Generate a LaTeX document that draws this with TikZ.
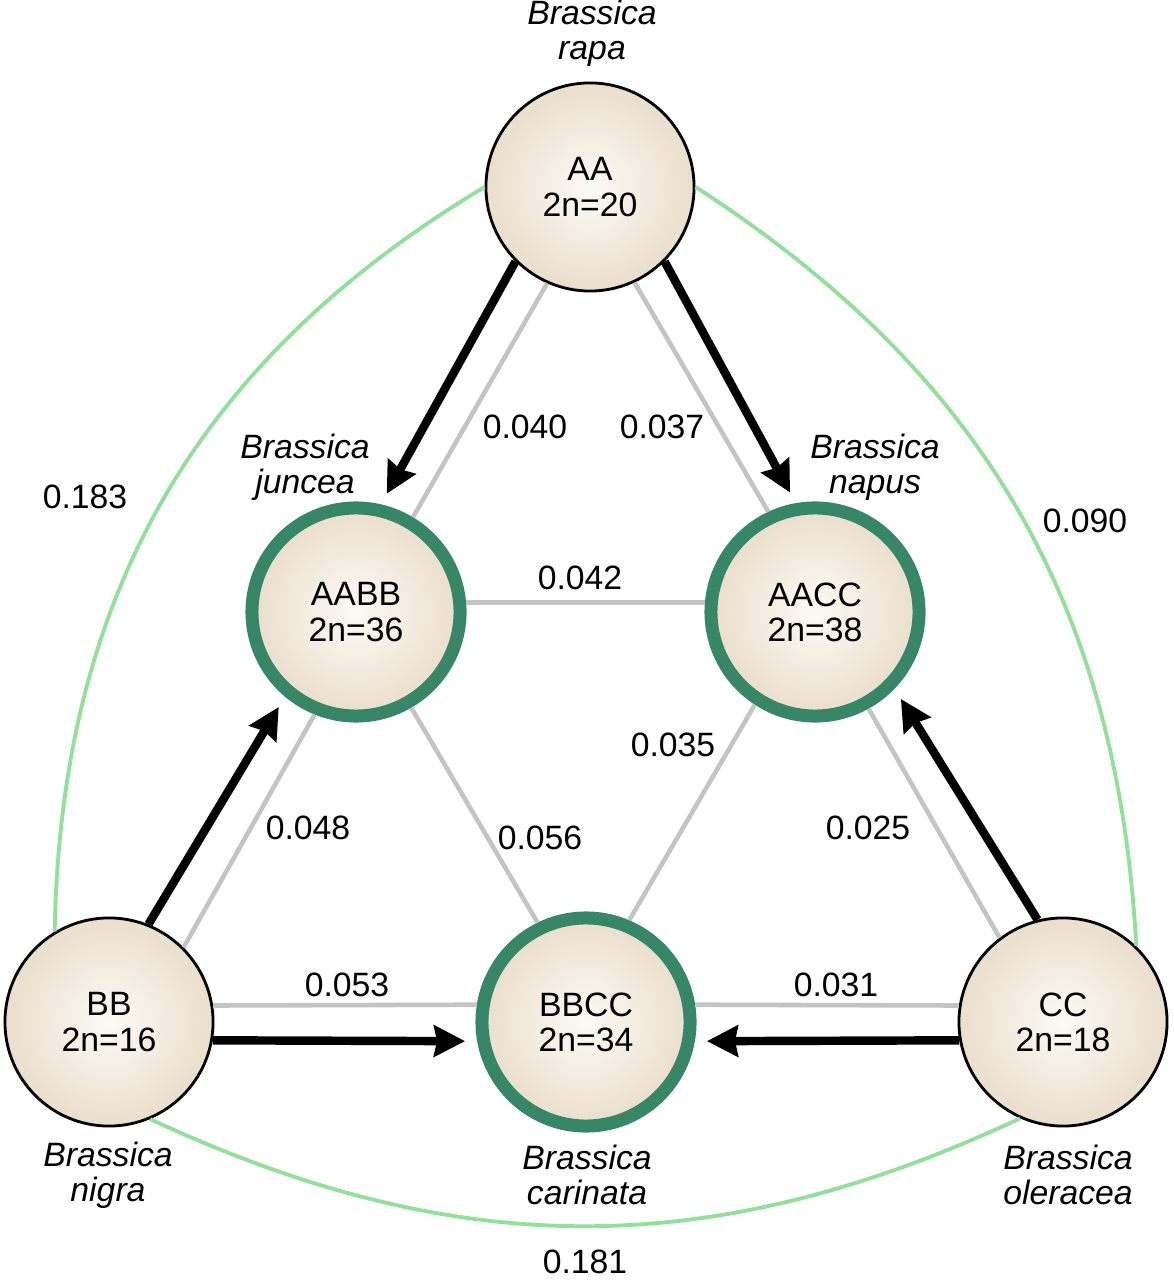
\documentclass[tikz,border=0pt]{standalone}
\usepackage{fontspec}
\setmainfont{Liberation Sans}
\usetikzlibrary{arrows.meta}

\definecolor{seedcore}{RGB}{252,250,245}
\definecolor{seedmid}{RGB}{238,228,212}
\definecolor{seededge}{RGB}{214,194,162}
\definecolor{ringgreen}{RGB}{56,134,104}
\definecolor{arcgreen}{RGB}{146,224,156}
\definecolor{linegray}{RGB}{196,196,196}

\pgfdeclareradialshading{seedfill}{\pgfpoint{0bp}{0bp}}{%
  color(0bp)=(seedcore); color(20bp)=(seedmid); color(50bp)=(seededge); color(72bp)=(seededge)}

\tikzset{
  diploid/.style={circle, draw=black, line width=0.8pt, shading=seedfill,
    minimum size=2.08cm, inner sep=0pt, align=center,
    font=\fontsize{9.6}{10}\selectfont},
  hybrid/.style={diploid, draw=ringgreen, line width=3.7pt},
  spname/.style={align=center, font=\fontsize{9.6}{10}\selectfont\itshape},
  dval/.style={font=\fontsize{9.6}{10}\selectfont},
  ident/.style={draw=linegray, line width=1.3pt},
  cross/.style={draw=black, line width=2.4pt,
    -{Stealth[length=0.31cm,width=0.31cm,inset=0.03cm]}, shorten >=0.12cm},
  distarc/.style={draw=arcgreen, line width=1.1pt}
}

\begin{document}
\begin{tikzpicture}[x=0.01cm, y=0.01cm]
\useasboundingbox (0,0) rectangle (1174,-1280);

% genomes
\node[diploid] (AA) at (590,-187) {AA\\2n=20};
\node[hybrid] (AABB) at (356,-612) {AABB\\2n=36};
\node[hybrid] (AACC) at (815,-612) {AACC\\2n=38};
\node[diploid] (BB) at (109,-1022) {BB\\2n=16};
\node[hybrid] (BBCC) at (586,-1022) {BBCC\\2n=34};
\node[diploid] (CC) at (1063,-1022) {CC\\2n=18};

% species names
\node[spname] (rapa) at (592,-33) {Brassica\\rapa};
\node[spname] (juncea) at (305,-467) {Brassica\\juncea};
\node[spname] (napus) at (875,-467) {Brassica\\napus};
\node[spname] (nigra) at (108,-1175) {Brassica\\nigra};
\node[spname] (carinata) at (587,-1175) {Brassica\\carinata};
\node[spname] (oleracea) at (1068,-1175) {Brassica\\oleracea};

% grey lines
\draw[ident] (AA.246) -- (AABB.59);
\draw[ident] (AA.295) -- (AACC.115);
\draw[ident] (AABB.5) -- (AACC.175);
\draw[ident] (AABB.300) -- (BBCC.116);
\draw[ident] (AACC.237) -- (BBCC.67);
\draw[ident] (BB.45) -- (AABB.248);
\draw[ident] (CC.127) -- (AACC.299);
\draw[ident] (BB.9) -- (BBCC.171);
\draw[ident] (CC.171) -- (BBCC.9);

% crosses
\draw[cross] (AA.225) -- (AABB.77);
\draw[cross] (AA.315) -- (AACC.100);
\draw[cross] (BB.68) -- (AABB.230);
\draw[cross] (CC.104) -- (AACC.316);
\draw[cross] (BB.350) -- (BBCC.190);
\draw[cross] (CC.190) -- (BBCC.350);

% outer arcs
\draw[distarc] (AA.180) to[bend right=29] (BB.121);
\draw[distarc] (AA.0) to[bend left=27] (CC.46);
\draw[distarc] (BB.293) to[bend right=25] (CC.246);

% distances
\node[dval] (d040) at (525,-427) {0.040};
\node[dval] (d037) at (662,-427) {0.037};
\node[dval] (d042) at (580,-578) {0.042};
\node[dval] (d035) at (673,-745) {0.035};
\node[dval] (d048) at (308,-828) {0.048};
\node[dval] (d056) at (540,-838) {0.056};
\node[dval] (d025) at (868,-828) {0.025};
\node[dval] (d053) at (347,-985) {0.053};
\node[dval] (d031) at (836,-985) {0.031};
\node[dval] (d183) at (85,-497) {0.183};
\node[dval] (d090) at (1085,-521) {0.090};
\node[dval] (d181) at (585,-1262) {0.181};
\end{tikzpicture}
\end{document}
